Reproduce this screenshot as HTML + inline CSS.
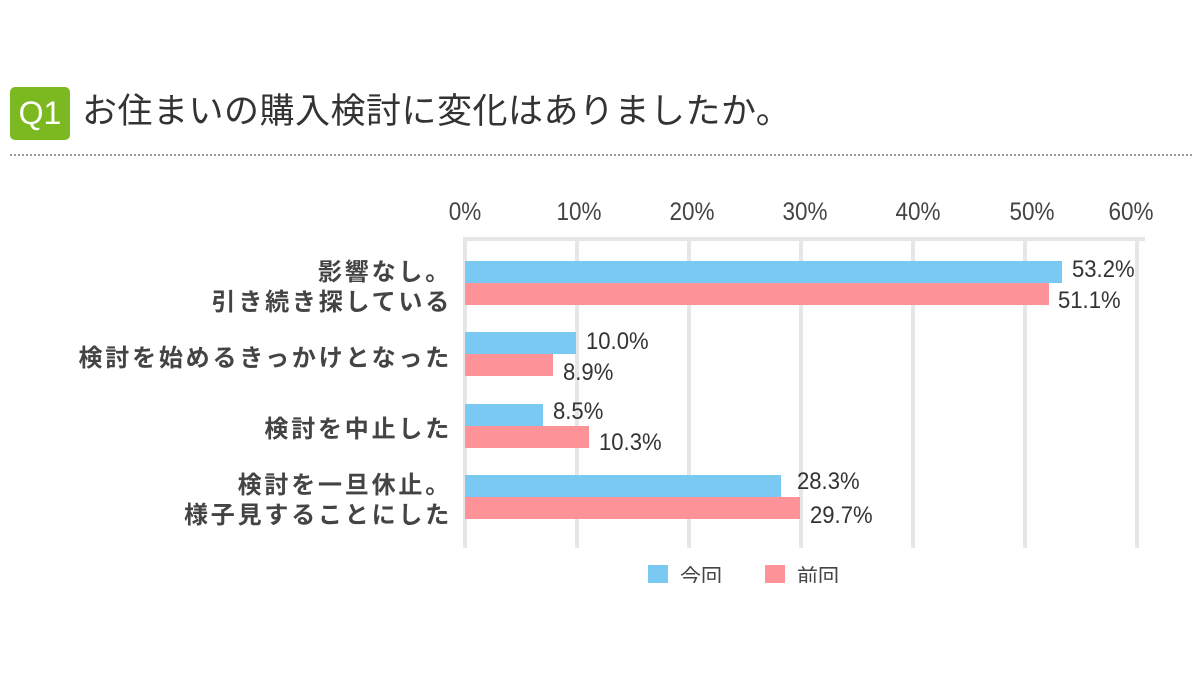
<!DOCTYPE html>
<html><head><meta charset="utf-8"><style>
body{margin:0;width:1200px;height:675px;background:#fff;position:relative;overflow:hidden;font-family:"Liberation Sans","Noto Sans CJK JP",sans-serif;}
.a{position:absolute;white-space:nowrap;}
.q{left:10px;top:87px;width:60px;height:53px;background:#7cb820;border-radius:5px;color:#fff;font-size:32px;line-height:53px;text-align:center;}
.t{left:82px;top:89px;font-size:35px;color:#333;line-height:46px;letter-spacing:0.5px;}
.dot{left:10px;top:154px;width:1182px;border-top:2px dotted #999;}
.tick{top:198px;font-size:25px;color:#444;transform:translateX(-50%) scaleX(0.9);}
.g{top:238px;width:4px;height:310px;background:#e6e6e6;}
.b{height:22px;left:465px;}
.bl{background:#79c9f3}.pk{background:#fd9299}
.v{font-size:24px;color:#333;line-height:24px;transform:scaleX(0.92);transform-origin:left;}
.c{font-size:24px;color:#444;text-align:right;right:748px;line-height:30px;letter-spacing:2.8px;font-weight:bold;}
</style></head><body>
<div class="a q">Q1</div>
<div class="a t">お住まいの購入検討に変化はありましたか。</div>
<div class="a dot"></div>
<div class="a" style="left:463px;top:237px;width:682px;height:4px;background:#e6e6e6"></div>
<div class="a g" style="left:463px"></div><div class="a g" style="left:575px"></div><div class="a g" style="left:687px"></div><div class="a g" style="left:799px"></div><div class="a g" style="left:911px"></div><div class="a g" style="left:1023px"></div><div class="a g" style="left:1135px"></div>
<div class="a tick" style="left:465px">0%</div><div class="a tick" style="left:579px">10%</div><div class="a tick" style="left:692px">20%</div><div class="a tick" style="left:805px">30%</div><div class="a tick" style="left:918px">40%</div><div class="a tick" style="left:1032px">50%</div><div class="a tick" style="left:1131px">60%</div>

<div class="a b bl" style="top:261px;width:597px"></div><div class="a b pk" style="top:283px;width:584px"></div>
<div class="a v" style="left:1072px;top:258px">53.2%</div><div class="a v" style="left:1058px;top:289px">51.1%</div>
<div class="a b bl" style="top:332px;width:111px"></div><div class="a b pk" style="top:354px;width:88px"></div>
<div class="a v" style="left:586px;top:330px">10.0%</div><div class="a v" style="left:563px;top:361px">8.9%</div>
<div class="a b bl" style="top:404px;width:78px"></div><div class="a b pk" style="top:426px;width:124px"></div>
<div class="a v" style="left:553px;top:400px">8.5%</div><div class="a v" style="left:599px;top:431px">10.3%</div>
<div class="a b bl" style="top:475px;width:316px"></div><div class="a b pk" style="top:497px;width:335px"></div>
<div class="a v" style="left:797px;top:470px">28.3%</div><div class="a v" style="left:810px;top:504px">29.7%</div>

<div class="a c" style="top:258px">影響なし。<br>引き続き探している</div>
<div class="a c" style="top:344px">検討を始めるきっかけとなった</div>
<div class="a c" style="top:415px">検討を中止した</div>
<div class="a c" style="top:471px">検討を一旦休止。<br>様子見することにした</div>

<div class="a" style="left:0;top:550px;width:1200px;height:33px;overflow:hidden">
<div class="a bl" style="left:648px;top:15px;width:20px;height:20px"></div>
<div class="a" style="left:680px;top:11px;font-size:21px;color:#444">今回</div>
<div class="a pk" style="left:765px;top:15px;width:20px;height:20px"></div>
<div class="a" style="left:797px;top:11px;font-size:21px;color:#444">前回</div>
</div>
</body></html>
